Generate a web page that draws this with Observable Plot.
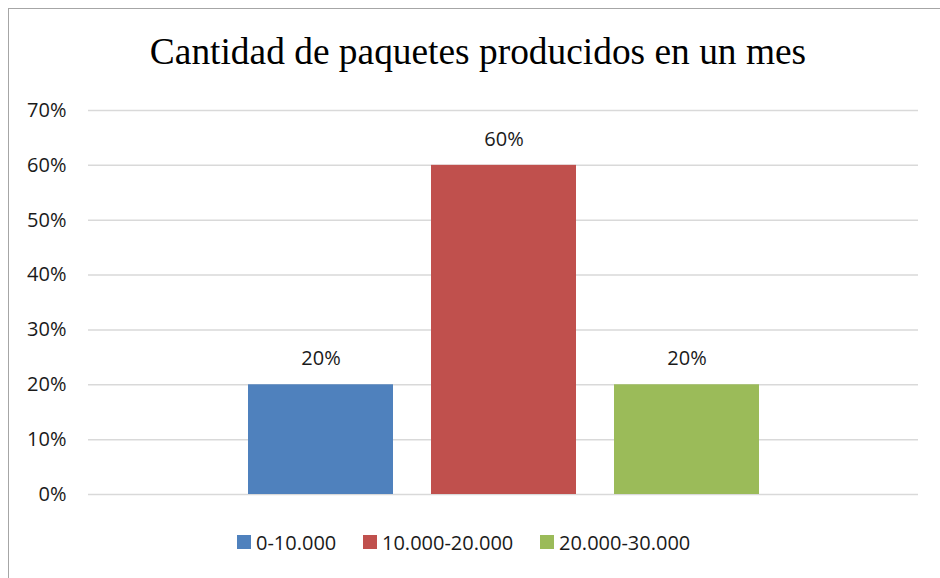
<!DOCTYPE html>
<html><head><meta charset="utf-8">
<script src="https://cdn.jsdelivr.net/npm/d3@7"></script>
<script src="https://cdn.jsdelivr.net/npm/@observablehq/plot@0.6"></script>
<style>
html,body{margin:0;padding:0;background:#fff;}
#frame{position:absolute;left:8px;top:8px;width:940px;height:578px;border-left:1.5px solid #a6a6a6;border-top:1.5px solid #a6a6a6;}
#title{position:absolute;left:0;top:30px;width:956px;text-align:center;font-family:"Liberation Serif","Times New Roman",serif;font-size:37.4px;color:#000;line-height:44px;}
#chart{position:absolute;left:0;top:95px;}
#legend{position:absolute;left:0;top:530px;width:940px;font-family:"Open Sans",sans-serif;font-size:20px;color:#1a1a1a;}
.item{position:absolute;display:flex;align-items:center;height:24px;}
.sw{width:14px;height:14px;margin-right:5px;}
</style></head>
<body>
<div id="frame"></div>
<div id="title">Cantidad de paquetes producidos en un mes</div>
<div id="chart"></div>
<div id="legend"></div>
<script>
const categories = ["0-10.000", "10.000-20.000", "20.000-30.000"];
const values = [0.20, 0.60, 0.20];
const colors = ["#4F81BD", "#C0504D", "#9BBB59"];
const yTicks = [0, 0.1, 0.2, 0.3, 0.4, 0.5, 0.6, 0.7];

const data = categories.map((c, i) => ({cat: c, value: values[i]}));
const fmt = d3.format(".0%");

const plot = Plot.plot({
  width: 940,
  height: 420,
  marginLeft: 88,
  marginRight: 22,
  marginTop: 15,
  marginBottom: 21,
  style: {fontFamily: "'Open Sans', sans-serif", fontSize: "20px", color: "#1a1a1a", background: "transparent"},
  x: {domain: categories, paddingInner: 0.21, paddingOuter: 0.867, axis: null},
  y: {domain: [0, 0.7], ticks: yTicks, tickFormat: fmt, tickSize: 0, tickPadding: 22, label: null},
  color: {domain: categories, range: colors},
  marks: [
    Plot.ruleY(yTicks, {stroke: "#d9d9d9", strokeWidth: 1.5}),
    Plot.barY(data, {x: "cat", y: "value", fill: "cat"}),
    Plot.text(data, {x: "cat", y: "value", text: d => fmt(d.value), dy: -26, fill: "#1a1a1a", fontSize: 20})
  ]
});
document.getElementById("chart").appendChild(plot);

const legendX = [237, 363, 540];
const legend = document.getElementById("legend");
categories.forEach((c, i) => {
  const it = document.createElement("div");
  it.className = "item";
  it.style.left = legendX[i] + "px";
  it.innerHTML = `<div class="sw" style="background:${colors[i]}"></div><span>${c}</span>`;
  legend.appendChild(it);
});
</script>
</body></html>
